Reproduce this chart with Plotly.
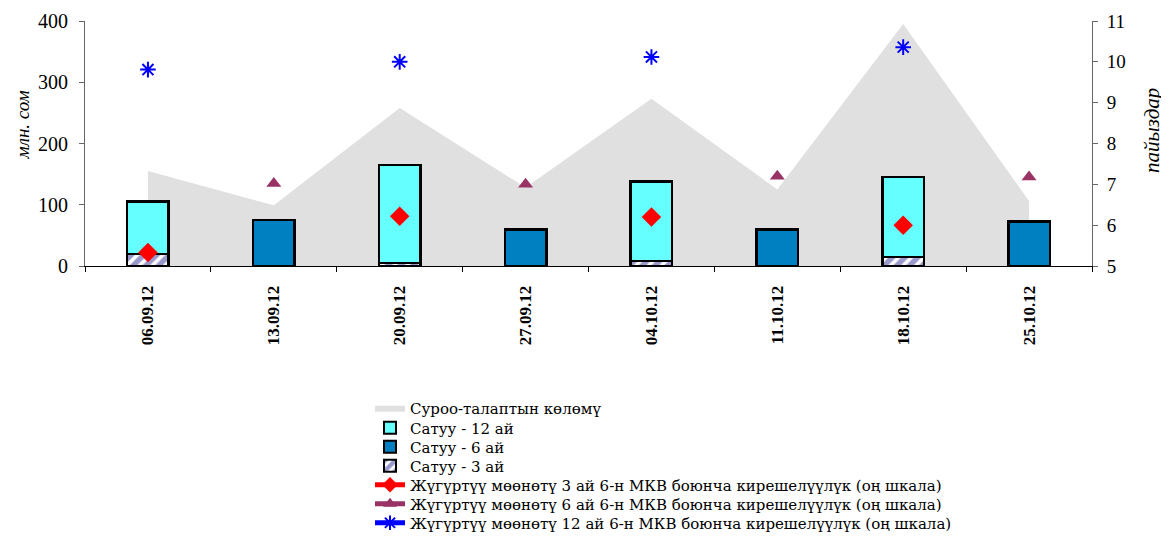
import plotly.graph_objects as go

dates = ["06.09.12", "13.09.12", "20.09.12", "27.09.12", "04.10.12", "11.10.12", "18.10.12", "25.10.12"]
demand = [155, 99, 258, 128, 273, 125, 395, 106]
sale_12m = [85, None, 160, None, 130, None, 130, None]
sale_6m = [None, 75, None, 60, None, 60, None, 73]
sale_3m = [20, None, 5, None, 8, None, 15, None]
yield_3m = [5.33, None, 6.22, None, 6.2, None, 6.0, None]
yield_6m = [None, 7.02, None, 7.0, None, 7.2, None, 7.18]
yield_12m = [9.81, None, 10.0, None, 10.12, None, 10.36, None]

names = [
    "Суроо-талаптын көлөмү",
    "Сатуу - 12 ай",
    "Сатуу - 6 ай",
    "Сатуу - 3 ай",
    "Жүгүртүү мөөнөтү 3 ай 6-н МКВ боюнча кирешелүүлүк (оң шкала)",
    "Жүгүртүү мөөнөтү 6 ай 6-н МКВ боюнча кирешелүүлүк (оң шкала)",
    "Жүгүртүү мөөнөтү 12 ай 6-н МКВ боюнча кирешелүүлүк (оң шкала)",
]
left_title = "млн. сом"
right_title = "пайыздар"

SERIF = "Liberation Serif, Times New Roman, serif"
LEG_FONT = dict(family="DejaVu Serif", size=15, color="black")

# the page body adds an 8px offset; the figure is sized to fit the window
OFF = 8
W, H = 1169 - OFF, 536 - OFF
ML, MR, MT, MB = 77, 77, 13, 270
plot_w = W - ML - MR
plot_h = H - MT - MB


def px_x(xw):
    return (xw - OFF - ML) / plot_w


def px_y(yw):
    return (H - MB - (yw - OFF)) / plot_h


fig = go.Figure()

fig.add_trace(go.Scatter(
    x=dates, y=demand, name=names[0], mode="lines", fill="tozeroy",
    line=dict(width=0, color="#e0e0e0"), fillcolor="#e0e0e0",
    xaxis="x", yaxis="y", legend="legend",
))

bar_line = dict(color="black", width=2.5)
fig.add_trace(go.Bar(
    x=dates, y=sale_3m, name=names[3], width=0.33,
    marker=dict(color="white", line=bar_line,
                pattern=dict(shape="/", fgcolor="#333399", bgcolor="white", size=9, solidity=0.6)),
    xaxis="x", yaxis="y2", legend="legend4",
))
fig.add_trace(go.Bar(
    x=dates, y=sale_6m, name=names[2], width=0.33,
    marker=dict(color="#0080c0", line=bar_line),
    xaxis="x", yaxis="y2", legend="legend3",
))
fig.add_trace(go.Bar(
    x=dates, y=sale_12m, name=names[1], width=0.33,
    marker=dict(color="#66ffff", line=bar_line),
    xaxis="x", yaxis="y2", legend="legend2",
))

fig.add_trace(go.Scatter(
    x=dates, y=yield_3m, name=names[4], mode="lines+markers", connectgaps=False,
    line=dict(color="#ff0000", width=2.5),
    marker=dict(symbol="diamond", size=15, color="#ff0000"),
    xaxis="x", yaxis="y3", legend="legend5",
))
fig.add_trace(go.Scatter(
    x=dates, y=yield_6m, name=names[5], mode="lines+markers", connectgaps=False,
    line=dict(color="#993366", width=2.5),
    marker=dict(symbol="triangle-up", size=13, color="#993366"),
    xaxis="x", yaxis="y3", legend="legend6",
))
fig.add_trace(go.Scatter(
    x=dates, y=yield_12m, name=names[6], mode="lines+markers", connectgaps=False,
    line=dict(color="#0000ff", width=2.5),
    marker=dict(symbol="asterisk-open", size=13, color="#0000ff", line=dict(color="#0000ff", width=2)),
    xaxis="x", yaxis="y3", legend="legend7",
))

# one legend per entry so rows can sit as close as in the reference
row_px = [408, 428, 447, 466, 485, 504, 523]
legends = {}
for i, ypx in enumerate(row_px):
    key = "legend" if i == 0 else f"legend{i + 1}"
    legends[key] = dict(
        x=px_x(370), y=px_y(ypx), xanchor="left", yanchor="middle",
        font=LEG_FONT, bgcolor="rgba(0,0,0,0)", itemsizing="constant",
    )

annotations = [
    dict(text=f"<i>{left_title}</i>", xref="paper", yref="paper",
         x=px_x(OFF + 1), y=px_y(125), xanchor="left", yanchor="middle",
         textangle=-90, showarrow=False, font=dict(family=SERIF, size=19, color="black")),
    dict(text=f"<i>{right_title}</i>", xref="paper", yref="paper",
         x=px_x(1152), y=px_y(131), xanchor="center", yanchor="middle",
         textangle=-90, showarrow=False, font=dict(family=SERIF, size=21, color="black")),
]

fig.update_layout(
    width=W, height=H,
    margin=dict(l=ML, r=MR, t=MT, b=MB, autoexpand=False),
    paper_bgcolor="white", plot_bgcolor="white",
    barmode="stack",
    font=dict(family=SERIF, color="black"),
    showlegend=True,
    annotations=annotations,
    xaxis=dict(
        type="category", range=[-0.5, 7.5], showgrid=False,
        showline=True, linecolor="black", linewidth=1,
        ticks="outside", tickson="boundaries", ticklen=5, tickcolor="black",
        tickangle=-90, tickfont=dict(family=SERIF, size=17, weight="bold", color="black"),
        ticklabelstandoff=12,
    ),
    yaxis=dict(
        range=[0, 400], dtick=100, showgrid=False, zeroline=False,
        showline=True, linecolor="#666666", linewidth=1,
        ticks="outside", ticklen=5, tickcolor="#666666",
        tickfont=dict(family=SERIF, size=20, color="black"),
        ticklabelstandoff=7,
    ),
    yaxis2=dict(
        range=[0, 400], overlaying="y", visible=False, showgrid=False, zeroline=False,
    ),
    yaxis3=dict(
        range=[5, 11], dtick=1, overlaying="y", side="right", anchor="x",
        showgrid=False, zeroline=False,
        showline=True, linecolor="#666666", linewidth=1,
        ticks="outside", ticklen=5, tickcolor="#666666",
        tickfont=dict(family=SERIF, size=19, color="black"),
        ticklabelstandoff=5,
    ),
    **legends,
)

fig.write_html("out.html")
